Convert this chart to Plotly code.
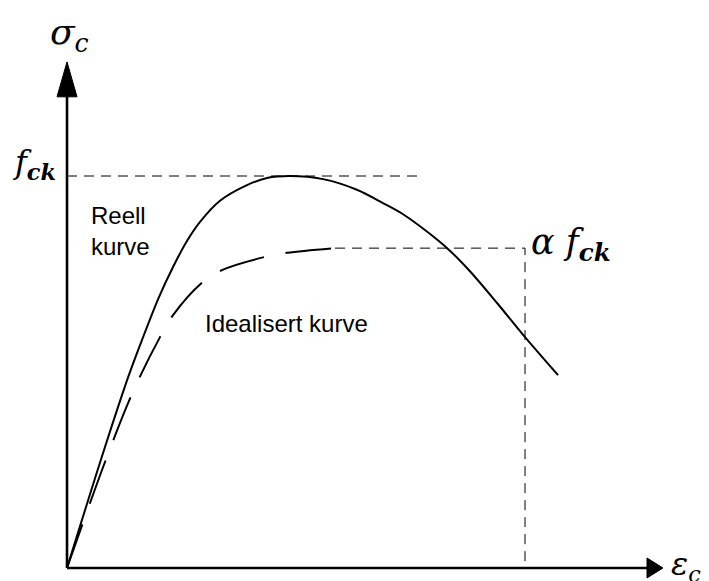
import plotly.graph_objects as go

# Strain in permille, stress normalised by f_ck
eps_real = [0.0, 0.332, 0.55, 0.673, 0.82, 0.951, 1.08, 1.193, 1.372, 1.60, 1.794, 2.0, 2.296, 2.60, 2.834, 3.0, 3.193, 3.417, 3.614, 3.857, 4.108, 4.404]
sig_real = [0.0, 0.301, 0.488, 0.582, 0.688, 0.768, 0.836, 0.883, 0.937, 0.975, 0.995, 1.0, 0.992, 0.965, 0.931, 0.905, 0.866, 0.814, 0.757, 0.676, 0.589, 0.492]

eps_ideal = [0.0, 0.36, 0.60, 0.834, 0.951, 1.220, 1.390, 1.767, 1.973, 2.404]
sig_ideal = [0.0, 0.285, 0.455, 0.589, 0.645, 0.730, 0.760, 0.793, 0.804, 0.816]

alpha = 0.816
eps_cu = 4.108
fck_line_end = 3.184

# axis extents (arrow tips)
eps_axis_tip = 5.345
sig_axis_tip = 1.291

fig = go.Figure()

dark = "#000000"

# guide lines for f_ck and alpha*f_ck / ultimate strain
fig.add_trace(go.Scatter(x=[0, fck_line_end], y=[1.0, 1.0], mode="lines",
                         line=dict(color=dark, width=1, dash="10px,7px"), hoverinfo="skip"))
fig.add_trace(go.Scatter(x=[eps_ideal[-1], eps_cu, eps_cu], y=[alpha, alpha, 0], mode="lines",
                         line=dict(color=dark, width=1, dash="10px,7px"), hoverinfo="skip"))

# curves
fig.add_trace(go.Scatter(x=eps_real, y=sig_real, mode="lines",
                         line=dict(color=dark, width=2, shape="spline", smoothing=0.9), hoverinfo="skip"))
fig.add_trace(go.Scatter(x=eps_ideal, y=sig_ideal, mode="lines",
                         line=dict(color=dark, width=2, shape="spline", smoothing=1.0, dash="46px,22px"),
                         hoverinfo="skip"))

# coordinate axes with arrowheads
fig.add_trace(go.Scatter(x=[0, 5.21], y=[0, 0], mode="lines", line=dict(color=dark, width=2.6), hoverinfo="skip"))
fig.add_trace(go.Scatter(x=[0, 0], y=[0, 1.21], mode="lines", line=dict(color=dark, width=2.6), hoverinfo="skip"))
fig.add_trace(go.Scatter(x=[5.202, eps_axis_tip, 5.202, 5.202], y=[0.0255, 0, -0.0255, 0.0255],
                         mode="lines", fill="toself", fillcolor=dark, line=dict(color=dark, width=1),
                         hoverinfo="skip"))
fig.add_trace(go.Scatter(x=[-0.0897, 0, 0.0897, -0.0897], y=[1.202, sig_axis_tip, 1.202, 1.202],
                         mode="lines", fill="toself", fillcolor=dark, line=dict(color=dark, width=1),
                         hoverinfo="skip"))

math_font = dict(family="DejaVu Serif", color=dark)
text_font = dict(family="Liberation Sans", color=dark, size=24)

annotations = [
    dict(x=0.02, y=1.36, text="<i>σ</i><sub><i>c</i></sub>", font=dict(size=36, **math_font),
         xanchor="center", yanchor="middle"),
    dict(x=-0.08, y=1.03, text="<i>f</i><sub><b><i>ck</i></b></sub>", font=dict(size=32, **math_font),
         xanchor="right", yanchor="middle"),
    dict(x=4.14, y=0.825, text="<i>α f</i><sub><b><i>ck</i></b></sub>", font=dict(size=35, **math_font),
         xanchor="left", yanchor="middle"),
    dict(x=5.40, y=0.005, text="<i>ε</i><sub><i>c</i></sub>", font=dict(size=32, **math_font),
         xanchor="left", yanchor="middle"),
    dict(x=0.2, y=0.86, text="Reell<br>kurve", font=text_font, xanchor="left", yanchor="middle",
         align="left"),
    dict(x=1.22, y=0.625, text="Idealisert kurve", font=text_font, xanchor="left", yanchor="middle"),
]
for a in annotations:
    a["showarrow"] = False

fig.update_layout(
    width=709, height=581,
    margin=dict(l=0, r=0, t=0, b=0),
    paper_bgcolor="white", plot_bgcolor="white",
    showlegend=False,
    xaxis=dict(range=[-0.601, 5.758], visible=False, fixedrange=True),
    yaxis=dict(range=[-0.0332, 1.449], visible=False, fixedrange=True),
    annotations=annotations,
)

fig.write_html("out.html")
